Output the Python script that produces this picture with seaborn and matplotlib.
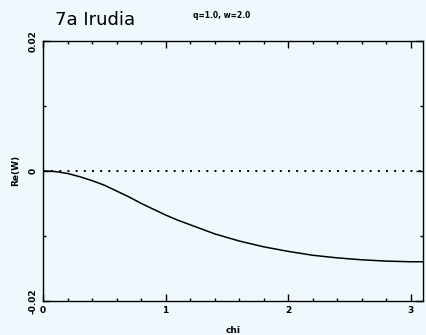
import matplotlib
matplotlib.use("Agg")
import matplotlib.pyplot as plt
import seaborn as sns
import pandas as pd
from matplotlib.ticker import MultipleLocator

chi = [0.0, 0.1, 0.2, 0.3, 0.4, 0.5, 0.6, 0.7, 0.8, 0.9, 1.0, 1.1, 1.2, 1.4, 1.6,
       1.8, 2.0, 2.2, 2.4, 2.6, 2.8, 3.0, 3.1]
re_w = [0.0, -0.0001, -0.0004, -0.0009, -0.0015, -0.0022, -0.0031, -0.0040,
        -0.0050, -0.0059, -0.0068, -0.0076, -0.0083, -0.0097, -0.0108,
        -0.0117, -0.0124, -0.0130, -0.0134, -0.0137, -0.0139, -0.0140, -0.0140]
zero_x = [0.0, 3.1]
zero_y = [0.0, 0.0]
x_ticks = [0, 1, 2, 3]
y_ticks = [-0.02, 0.0, 0.02]
y_tick_labels = ["-0.02", "0", "0.02"]

bg = "#eff9fd"
sns.set_theme(style="ticks")
plt.rcParams['font.family'] = ['DejaVu Sans']
plt.rcParams['text.color'] = 'black'
plt.rcParams['axes.labelcolor'] = 'black'
plt.rcParams['xtick.color'] = 'black'
plt.rcParams['ytick.color'] = 'black'

fig = plt.figure(figsize=(4.26, 3.35), dpi=100, facecolor=bg)
ax = fig.add_axes([0.101, 0.1024, 0.892, 0.775])
ax.set_facecolor(bg)

df = pd.DataFrame({"chi": chi, "re": re_w})
sns.lineplot(data=df, x="chi", y="re", ax=ax, color="black", linewidth=1.1)
sns.lineplot(x=zero_x, y=zero_y, ax=ax, color="black", linewidth=1.4,
             linestyle=(0, (1.0, 3.2)))

ax.set_xlim(0, 3.1)
ax.set_ylim(-0.02, 0.02)
ax.set_xticks(x_ticks)
ax.set_xticklabels([str(t) for t in x_ticks], fontsize=6.5, fontweight="bold")
ax.xaxis.set_minor_locator(MultipleLocator(0.2))
ax.set_yticks(y_ticks)
ax.set_yticklabels(y_tick_labels, fontsize=6.5, fontweight="bold", rotation=90,
                   va="center")
ax.yaxis.set_minor_locator(MultipleLocator(0.01))
ax.tick_params(which="both", direction="in", top=True, right=True, width=1.0,
               colors="black")
ax.tick_params(which="major", length=5, pad=4)
ax.tick_params(which="minor", length=2.5)
for s in ax.spines.values():
    s.set_linewidth(1.0)
    s.set_color("black")

ax.set_xlabel("chi", fontsize=6.5, fontweight="bold", labelpad=8)
ax.set_ylabel("Re(W)", fontsize=6.5, fontweight="bold", labelpad=6)

fig.text(0.129, 0.94, "7a Irudia", fontsize=13, ha="left", va="center",
         color="black")
fig.text(0.453, 0.955, "q=1.0, w=2.0", fontsize=5.5, fontweight="bold",
         ha="left", va="center", color="black")

fig.savefig("out.png", dpi=100, facecolor=bg)
